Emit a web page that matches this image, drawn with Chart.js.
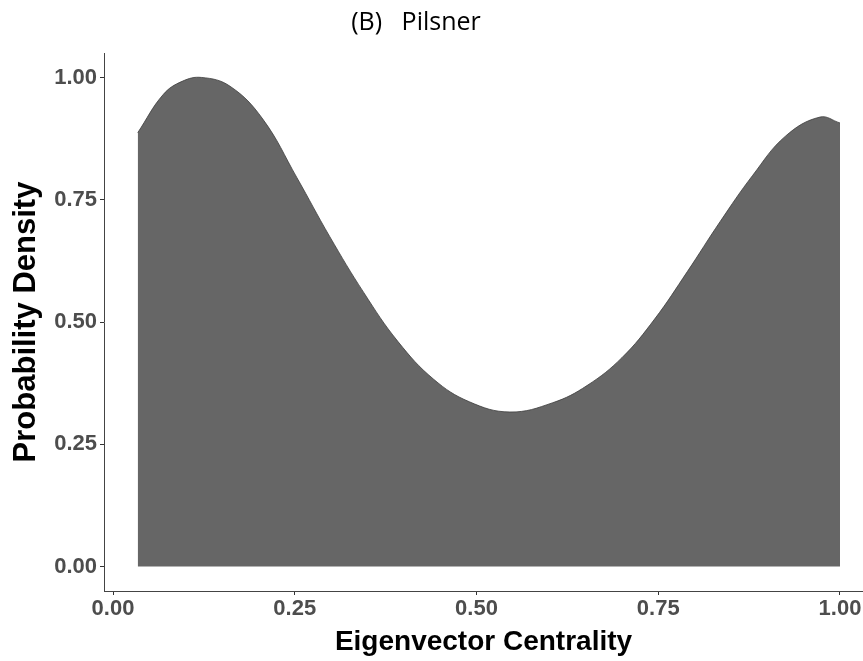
<!DOCTYPE html>
<html>
<head>
<meta charset="utf-8">
<title>Pilsner</title>
<script src="https://cdn.jsdelivr.net/npm/chart.js@4/dist/chart.umd.min.js"></script>
<style>
  body { margin: 0; background: #fff; }
  canvas { display: block; }
</style>
</head>
<body>
<canvas id="grafica" width="863" height="661"></canvas>
<script>
// Curva de densidad (centralidad de vector propio)
const centralidad = [0.034, 0.069, 0.095, 0.122, 0.161, 0.206, 0.253, 0.298, 0.345, 0.392, 0.441, 0.490, 0.546, 0.605, 0.652, 0.700, 0.745, 0.790, 0.835, 0.880, 0.925, 0.9725, 1.000];
const densidad = [0.887, 0.965, 0.992, 1.000, 0.982, 0.915, 0.795, 0.675, 0.560, 0.460, 0.383, 0.337, 0.316, 0.335, 0.370, 0.427, 0.506, 0.603, 0.705, 0.800, 0.880, 0.919, 0.907];

const ticksX = [0, 0.25, 0.5, 0.75, 1];
const ticksY = [0, 0.25, 0.5, 0.75, 1];

const titulo = "(B)   Pilsner";
const tituloX = "Eigenvector Centrality";
const tituloY = "Probability Density";

const puntos = centralidad.map((x, i) => ({ x: x, y: densidad[i] }));

//Titulo arriba, dibujado a mano para ponerlo donde va
const pluginTitulo = {
    id: 'tituloPanel',
    afterDraw(chart) {
        const ctx = chart.ctx;
        ctx.save();
        ctx.font = '25px "Open Sans"';
        ctx.fillStyle = '#000';
        ctx.textAlign = 'center';
        ctx.textBaseline = 'middle';
        ctx.fillText(titulo, 416, 23);
        ctx.restore();
    }
};

const config = {
    type: 'line',
    data: {
        datasets: [{
            data: puntos,
            fill: 'origin',
            backgroundColor: '#666666',
            borderColor: '#3c3c3c',
            borderWidth: 0.8,
            pointRadius: 0,
            tension: 0.4
        }]
    },
    options: {
        responsive: false,
        animation: false,
        layout: { padding: { top: 53, left: 0, right: 0, bottom: 0 } },
        plugins: {
            legend: { display: false },
            tooltip: { enabled: false }
        },
        scales: {
            x: {
                type: 'linear',
                min: -0.01238,
                max: 1.03164,
                afterBuildTicks: s => { s.ticks = ticksX.map(v => ({ value: v })); },
                afterFit: s => { s.height = 70; },
                grid: { drawOnChartArea: false, drawTicks: true, tickLength: 4, tickColor: '#333' },
                border: { display: true, color: '#444', width: 1 },
                ticks: {
                    autoSkip: false,
                    maxRotation: 0,
                    padding: 1,
                    color: '#4d4d4d',
                    font: { family: 'Liberation Sans', size: 22, weight: 'bold' },
                    callback: v => v.toFixed(2)
                },
                title: {
                    display: true,
                    text: tituloX,
                    color: '#000',
                    font: { family: 'Liberation Sans', size: 28, weight: 'bold' },
                    padding: { top: 0, bottom: 2 }
                }
            },
            y: {
                min: -0.05,
                max: 1.05,
                afterBuildTicks: s => { s.ticks = ticksY.map(v => ({ value: v })); },
                afterFit: s => { s.width = 104; },
                grid: { drawOnChartArea: false, drawTicks: true, tickLength: 4, tickColor: '#333' },
                border: { display: true, color: '#444', width: 1 },
                ticks: {
                    autoSkip: false,
                    padding: 3,
                    color: '#4d4d4d',
                    font: { family: 'Liberation Sans', size: 22, weight: 'bold' },
                    callback: v => v.toFixed(2)
                },
                title: {
                    display: true,
                    text: tituloY,
                    color: '#000',
                    font: { family: 'Liberation Sans', size: 31, weight: 'bold' },
                    padding: { top: 8, bottom: 0 }
                }
            }
        }
    },
    plugins: [pluginTitulo]
};

new Chart(document.getElementById('grafica'), config);
</script>
</body>
</html>
